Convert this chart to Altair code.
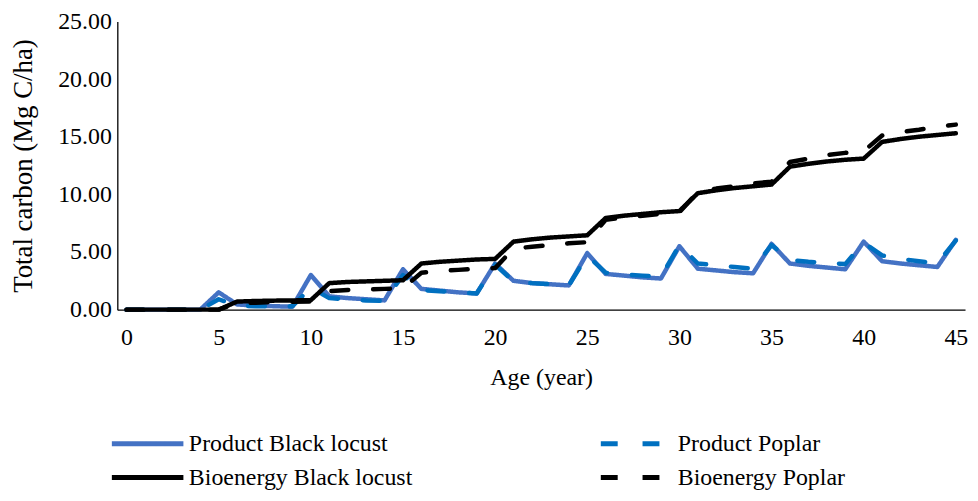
import altair as alt
import pandas as pd

years = list(range(46))

product_black_locust = [0, 0, 0, 0, 0, 1.5, 0.45, 0.35, 0.3, 0.25,
                        3.0, 1.15, 1.0, 0.9, 0.8, 3.5, 1.8, 1.65, 1.5, 1.4,
                        4.0, 2.5, 2.3, 2.2, 2.1, 4.9, 3.1, 2.95, 2.8, 2.7,
                        5.5, 3.55, 3.4, 3.25, 3.15, 5.7, 4.0, 3.8, 3.65, 3.5,
                        5.9, 4.2, 4.0, 3.85, 3.7, 6.05]
product_poplar = [0, 0, 0, 0, 0, 0.9, 0.35, 0.3, 0.3, 0.3,
                  1.9, 1.0, 0.9, 0.8, 0.75, 3.0, 1.7, 1.6, 1.5, 1.4,
                  3.9, 2.45, 2.3, 2.2, 2.1, 4.7, 3.2, 3.05, 2.95, 2.85,
                  5.6, 4.0, 3.85, 3.7, 3.55, 5.6, 4.3, 4.15, 4.05, 3.95,
                  5.8, 4.7, 4.4, 4.2, 4.0, 6.0]
bioenergy_black_locust = [0, 0, 0, 0, 0, 0, 0.7, 0.75, 0.78, 0.8,
                          0.82, 2.3, 2.4, 2.45, 2.5, 2.55, 4.0, 4.15, 4.25, 4.35,
                          4.4, 5.9, 6.1, 6.25, 6.35, 6.45, 7.95, 8.15, 8.3, 8.45,
                          8.55, 10.1, 10.35, 10.55, 10.7, 10.85, 12.4, 12.65, 12.85, 13.0,
                          13.1, 14.55, 14.8, 15.0, 15.15, 15.3]
bioenergy_poplar = [0, 0, 0, 0, 0, 0, 0.55, 0.6, 0.65, 0.68,
                    0.7, 1.6, 1.7, 1.75, 1.8, 1.85, 3.2, 3.35, 3.45, 3.55,
                    3.6, 5.3, 5.45, 5.6, 5.75, 5.85, 7.8, 8.0, 8.15, 8.3,
                    8.45, 10.2, 10.5, 10.7, 10.95, 11.1, 12.8, 13.1, 13.4, 13.6,
                    13.75, 15.1, 15.4, 15.6, 15.85, 16.05]

series = ["Product Black locust", "Product Poplar", "Bioenergy Black locust", "Bioenergy Poplar"]
colors = ["#4472C4", "#0070C0", "#000000", "#000000"]
dashes = [[1, 0], [17, 25], [1, 0], [17, 25]]

x_ticks = [0, 5, 10, 15, 20, 25, 30, 35, 40, 45]
y_ticks = [0, 5, 10, 15, 20, 25]

rows = []
for name, vals in zip(series, [product_black_locust, product_poplar,
                               bioenergy_black_locust, bioenergy_poplar]):
    for yr, v in zip(years, vals):
        rows.append({"Age": yr, "Carbon": v, "Series": name})
df = pd.DataFrame(rows)

FONT = "Liberation Serif"

legend = alt.Legend(
    title=None, orient="none", legendX=-8, legendY=413, columns=2, direction="horizontal",
    columnPadding=187, rowPadding=10, symbolType="stroke", symbolSize=5184,
    symbolStrokeWidth=5, clipHeight=24, labelFontSize=24, labelFont=FONT,
    labelColor="#000000", labelOffset=3, padding=0, labelLimit=400,
)

base = alt.Chart(df).mark_line(strokeWidth=4.5, strokeJoin="round", strokeCap="round").encode(
    x=alt.X("Age:Q", scale=alt.Scale(domain=[-0.5, 45.5], nice=False, zero=False),
            axis=alt.Axis(values=x_ticks, format="d", title="Age (year)", ticks=False,
                          grid=False, labelPadding=16, titleY=68, titleBaseline="middle")),
    y=alt.Y("Carbon:Q", scale=alt.Scale(domain=[0, 25], nice=False),
            axis=alt.Axis(values=y_ticks, format=".2f", title="Total carbon (Mg C/ha)",
                          ticks=False, grid=False, labelPadding=6, titlePadding=20,
                          titleFontSize=27)),
    color=alt.Color("Series:N", scale=alt.Scale(domain=series, range=colors), legend=legend),
    strokeDash=alt.StrokeDash("Series:N", scale=alt.Scale(domain=series, range=dashes), legend=legend),
)

layers = [base.transform_filter(alt.datum.Series == s) for s in series]

chart = alt.layer(*layers).properties(
    width=853, height=290,
    autosize=alt.AutoSizeParams(type="none"),
    padding={"left": 110, "top": 12, "right": 5, "bottom": 183},
).configure_view(stroke=None).configure_axis(
    domainColor="#000000", domainWidth=1.3, labelFont=FONT, titleFont=FONT,
    labelFontSize=24, titleFontSize=24, labelColor="#000000", titleColor="#000000",
    titleFontWeight="normal",
)

chart.save("out.html", embed_options={"renderer": "svg", "actions": False})
